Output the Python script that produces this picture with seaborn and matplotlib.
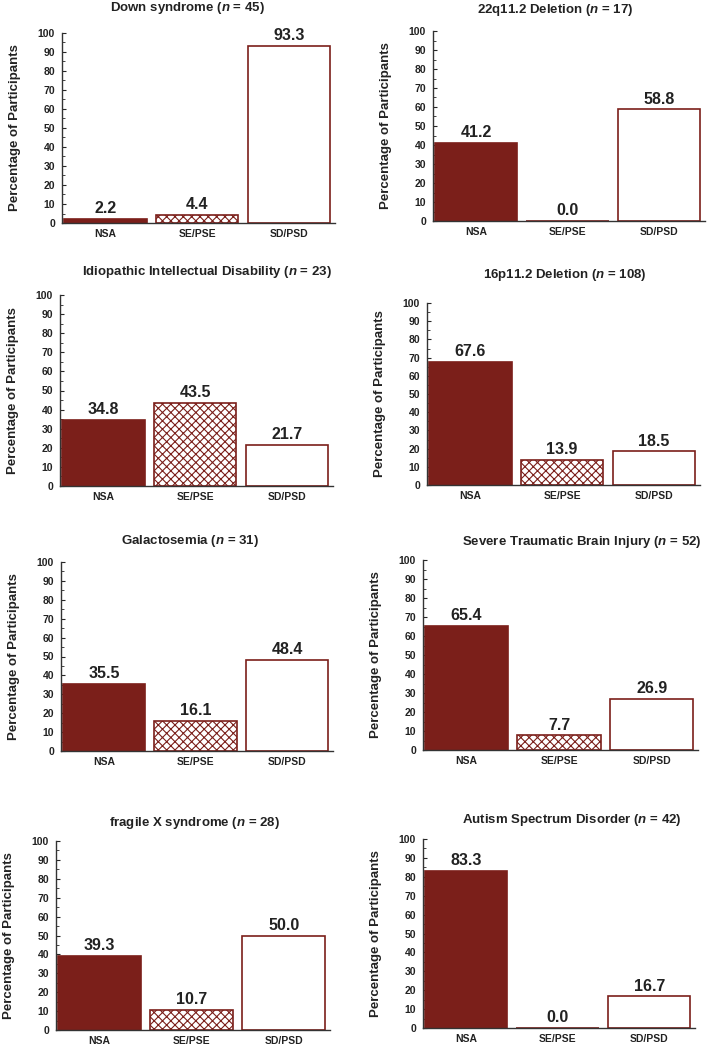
import matplotlib
matplotlib.use('Agg')
import matplotlib.pyplot as plt
import seaborn as sns
from matplotlib.ticker import MultipleLocator

# data
categories = ['NSA', 'SE/PSE', 'SD/PSD']
titles = ['Down syndrome', '22q11.2 Deletion', 'Idiopathic Intellectual Disability', '16p11.2 Deletion',
          'Galactosemia', 'Severe Traumatic Brain Injury', 'fragile X syndrome', 'Autism Spectrum Disorder']
sample_sizes = [45, 17, 23, 108, 31, 52, 28, 42]
nsa = [2.2, 41.2, 34.8, 67.6, 35.5, 65.4, 39.3, 83.3]
se_pse = [4.4, 0.0, 43.5, 13.9, 16.1, 7.7, 10.7, 0.0]
sd_psd = [93.3, 58.8, 21.7, 18.5, 48.4, 26.9, 50.0, 16.7]

# layout (pixels): axes box left, top, right, bottom and title centre
W, H = 710, 1050
boxes = [(62, 33, 335, 223), (433, 31, 705, 221), (60, 295, 333, 486), (427, 303, 700, 485),
         (61, 562, 333, 751), (423, 560, 698, 750), (56, 841, 330, 1030), (423, 839, 695, 1028)]
title_pos = [(187, 8), (555, 10), (207, 272), (565, 275), (190, 541), (582, 542), (195, 823), (572, 820)]

red = '#7b1f1a'
faces = [red, 'white', 'white']
hatches = ['', 'xxxx', '']
text_col = '#222222'

sns.set_style('white')
plt.rcParams['font.family'] = ['Liberation Sans', 'DejaVu Sans']
plt.rcParams['mathtext.fontset'] = 'custom'
plt.rcParams['mathtext.it'] = 'Liberation Sans:bold:italic'
plt.rcParams['mathtext.rm'] = 'Liberation Sans:bold'
plt.rcParams['hatch.linewidth'] = 0.8

fig = plt.figure(figsize=(W / 100, H / 100), dpi=100)

for i in range(len(titles)):
    l, t, r, b = boxes[i]
    ax = fig.add_axes([l / W, 1 - b / H, (r - l) / W, (b - t) / H])
    vals = [nsa[i], se_pse[i], sd_psd[i]]
    sns.barplot(x=categories, y=vals, hue=categories, palette=faces, saturation=1,
                legend=False, width=0.9, ax=ax)
    for p, face, hatch in zip(ax.patches, faces, hatches):
        p.set_facecolor(face)
        p.set_edgecolor(red)
        p.set_hatch(hatch)
        p.set_linewidth(1.2)
    for c in ax.containers:
        ax.bar_label(c, fmt='%.1f', padding=2, fontsize=11.5, fontweight='bold', color=text_col)
    ax.set_xlim(-0.47, 2.5)
    ax.set_ylim(0, 100)
    ax.yaxis.set_major_locator(MultipleLocator(10))
    ax.yaxis.set_minor_locator(MultipleLocator(5))
    ax.tick_params(axis='y', which='major', direction='in', length=3, width=0.8, left=True,
                   labelsize=7.5, pad=5, labelcolor=text_col)
    ax.tick_params(axis='y', which='minor', direction='in', length=2, width=0.6, left=True)
    ax.tick_params(axis='x', length=0, labelsize=7.5, pad=4, labelcolor=text_col)
    for lab in ax.get_xticklabels() + ax.get_yticklabels():
        lab.set_fontweight('bold')
    sns.despine(ax=ax)
    for s in ['left', 'bottom']:
        ax.spines[s].set_color('#333333')
        ax.spines[s].set_linewidth(1.0)
    ax.set_ylabel('Percentage of Participants', fontsize=9.5, fontweight='bold', color=text_col, labelpad=12)
    tx, ty = title_pos[i]
    fig.text(tx / W, 1 - ty / H, f'{titles[i]} ($n$ = {sample_sizes[i]})', ha='center', va='center',
             fontsize=9.5, fontweight='bold', color=text_col)

fig.savefig('out.png', dpi=100)
